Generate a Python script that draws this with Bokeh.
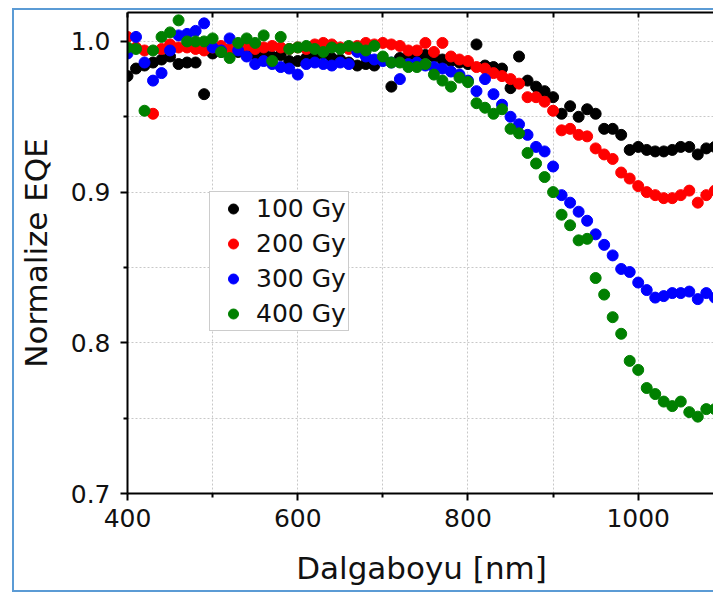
from bokeh.plotting import figure
from bokeh.models import (Range1d, FixedTicker, LinearAxis, Legend, LegendItem,
                          ColumnDataSource, PrintfTickFormatter)
from bokeh.embed import file_html
from bokeh.resources import INLINE

wavelength = list(range(400, 1100, 10))

gy100 = [0.977, 0.982, 0.984, 0.986, 0.988, 0.990, 0.985, 0.986, 0.986, 0.965,
         0.992, 0.993, 0.994, 0.993, 0.992, 0.991, 0.992, 0.990, 0.991, 0.987,
         0.987, 0.989, 0.990, 0.992, 0.989, 0.988, 0.986, 0.984, 0.985, 0.984,
         0.988, 0.970, 0.989, 0.990, 0.989, 0.991, 0.990, 0.988, 0.987, 0.986,
         0.985, 0.998, 0.984, 0.983, 0.982, 0.969, 0.990, 0.974, 0.970, 0.967,
         0.963, 0.952, 0.957, 0.950, 0.955, 0.952, 0.942, 0.942, 0.938, 0.928,
         0.930, 0.928, 0.927, 0.927, 0.928, 0.930, 0.930, 0.925, 0.929, 0.930]

gy200 = [1.003, 0.996, 0.994, 0.952, 0.995, 0.998, 0.996, 0.996, 0.995, 0.994,
         0.996, 0.997, 0.995, 0.996, 0.997, 0.995, 0.996, 0.997, 0.996, 0.995,
         0.996, 0.995, 0.998, 0.999, 0.998, 0.996, 0.995, 0.997, 0.999, 0.998,
         0.999, 0.998, 0.997, 0.994, 0.994, 0.999, 0.993, 0.999, 0.990, 0.988,
         0.987, 0.983, 0.982, 0.979, 0.977, 0.975, 0.972, 0.963, 0.963, 0.960,
         0.954, 0.941, 0.942, 0.938, 0.937, 0.929, 0.925, 0.922, 0.913, 0.909,
         0.904, 0.900, 0.898, 0.896, 0.896, 0.898, 0.901, 0.893, 0.898, 0.901]

gy300 = [0.992, 1.003, 0.986, 0.974, 0.979, 0.994, 1.004, 1.005, 1.007, 1.012,
         0.996, 0.994, 1.002, 0.994, 0.990, 0.985, 0.987, 0.985, 0.983, 0.982,
         0.978, 0.985, 0.986, 0.985, 0.984, 0.986, 0.985, 0.993, 0.990, 0.988,
         0.987, 0.986, 0.975, 0.985, 0.986, 0.984, 0.983, 0.982, 0.980, 0.978,
         0.974, 0.967, 0.975, 0.965, 0.958, 0.950, 0.945, 0.938, 0.930, 0.927,
         0.917, 0.898, 0.893, 0.887, 0.881, 0.872, 0.865, 0.858, 0.849, 0.847,
         0.840, 0.835, 0.830, 0.831, 0.833, 0.833, 0.834, 0.829, 0.833, 0.830]

gy400 = [0.996, 0.995, 0.954, 0.994, 1.003, 1.006, 1.014, 1.000, 1.000, 1.000,
         1.002, 0.993, 0.989, 0.999, 1.002, 0.999, 1.004, 0.987, 1.003, 0.995,
         0.996, 0.997, 0.995, 0.993, 0.996, 0.995, 0.997, 0.996, 0.994, 0.997,
         0.990, 0.986, 0.986, 0.983, 0.983, 0.985, 0.978, 0.974, 0.970, 0.976,
         0.973, 0.959, 0.956, 0.952, 0.955, 0.942, 0.939, 0.926, 0.919, 0.910,
         0.900, 0.885, 0.878, 0.868, 0.869, 0.843, 0.832, 0.817, 0.806, 0.788,
         0.782, 0.770, 0.766, 0.761, 0.758, 0.761, 0.754, 0.751, 0.756, 0.756]

series_labels = ["100 Gy", "200 Gy", "300 Gy", "400 Gy"]
series_values = [gy100, gy200, gy300, gy400]
series_colors = ["#000000", "#ff0000", "#0000ff", "#008000"]

x_major = [400, 600, 800, 1000]
x_minor = [500, 700, 900]
y_major = [0.7, 0.8, 0.9, 1.0]
y_minor = [0.75, 0.85, 0.95]

FONT = "DejaVu Sans"
TXT = "#111111"

p = figure(width=701, height=584, output_backend="svg", toolbar_location=None,
           x_range=Range1d(400, 1090.8), y_range=Range1d(0.7, 1.0192),
           min_border_left=113, min_border_right=0, min_border_top=2, min_border_bottom=101,
           background_fill_color="white", border_fill_color="white")
p.outline_line_color = None
p.styles = {"border-left": "2px solid #5b9bd5", "border-top": "2px solid #5b9bd5",
            "border-bottom": "2px solid #5b9bd5", "margin-left": "12px", "margin-top": "8px",
            "box-sizing": "border-box"}

xt = FixedTicker(ticks=x_major, minor_ticks=x_minor)
yt = FixedTicker(ticks=y_major, minor_ticks=y_minor)

xa = p.xaxis[0]
xa.ticker = xt
ya = p.yaxis[0]
ya.ticker = yt
ya.formatter = PrintfTickFormatter(format="%.1f")

for ax in (xa, ya):
    ax.axis_line_width = 2
    ax.axis_line_color = "black"
    ax.major_tick_line_width = 2
    ax.minor_tick_line_width = 2
    ax.major_tick_line_color = "black"
    ax.minor_tick_line_color = "black"
    ax.major_tick_in = 0
    ax.major_tick_out = 7
    ax.minor_tick_in = 0
    ax.minor_tick_out = 4
    ax.major_label_text_font = FONT
    ax.major_label_text_font_size = "25px"
    ax.major_label_text_color = TXT
    ax.axis_label_text_font = FONT
    ax.axis_label_text_font_size = "31px"
    ax.axis_label_text_font_style = "normal"
    ax.axis_label_text_color = TXT

xa.axis_label = "Dalgaboyu [nm]"
xa.major_label_standoff = 8
xa.axis_label_standoff = 20
ya.axis_label = "Normalize EQE"
ya.major_label_standoff = 10
ya.axis_label_standoff = 14

top = LinearAxis(ticker=FixedTicker(ticks=x_major + x_minor))
top.axis_line_width = 2
top.axis_line_color = "black"
top.major_tick_line_width = 2
top.major_tick_in = 5
top.major_tick_out = 0
top.minor_tick_line_color = None
top.major_label_text_color = None
top.major_label_text_font_size = "1px"
top.major_label_standoff = 0
p.add_layout(top, "above")

for g in (p.xgrid[0], p.ygrid[0]):
    g.grid_line_color = "#c8c8c8"
    g.grid_line_dash = "2 2"
    g.grid_line_width = 1
    g.minor_grid_line_color = "#c8c8c8"
    g.minor_grid_line_dash = "2 2"
    g.minor_grid_line_width = 1

renderers = []
for lab, vals, col in zip(series_labels, series_values, series_colors):
    src = ColumnDataSource(dict(x=wavelength, y=vals))
    r = p.scatter("x", "y", source=src, size=11, fill_color=col, line_color=col)
    renderers.append(r)

legend = Legend(items=[LegendItem(label=l, renderers=[r]) for l, r in zip(series_labels, renderers)],
                location=(82, 162))
legend.label_text_font = FONT
legend.label_text_font_size = "25px"
legend.label_text_color = TXT
legend.label_height = 28
legend.glyph_height = 25
legend.glyph_width = 42
legend.label_standoff = 2
legend.spacing = 6
legend.padding = 2
legend.margin = 0
legend.border_line_color = "#9a9a9a"
legend.border_line_width = 1
legend.background_fill_color = "white"
legend.background_fill_alpha = 1.0
p.add_layout(legend)

open("out.html", "w").write(file_html(p, INLINE))
